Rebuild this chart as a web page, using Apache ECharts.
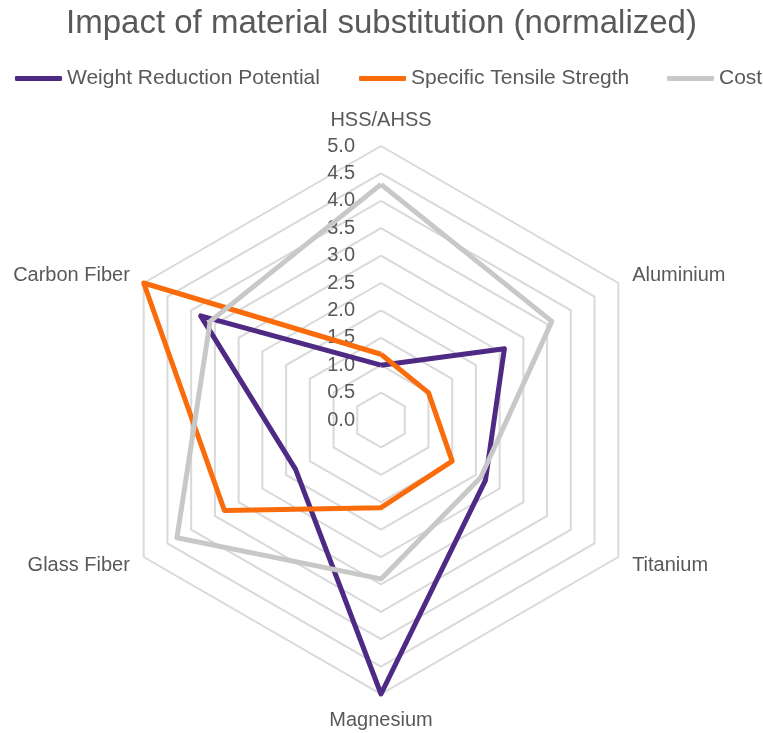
<!DOCTYPE html>
<html>
<head>
<meta charset="utf-8">
<script src="https://cdn.jsdelivr.net/npm/echarts@6/dist/echarts.min.js"></script>
<style>
  html, body { margin: 0; padding: 0; background: #ffffff; }
  #chart { width: 763px; height: 733px; }
</style>
</head>
<body>
<div id="chart"></div>
<script>
// Materials, listed clockwise starting at the top spoke
const materials = ['HSS/AHSS', 'Aluminium', 'Titanium', 'Magnesium', 'Glass Fiber', 'Carbon Fiber'];

// Normalized scores (0–5) per material, same order as above
const weightReduction = [1.0, 2.6, 2.2, 5.0, 1.8, 3.8];
const tensileStrength = [1.2, 1.0, 1.5, 1.6, 3.3, 5.0];
const cost            = [4.3, 3.6, 2.1, 2.9, 4.3, 3.6];

const seriesNames = ['Weight Reduction Potential', 'Specific Tensile Stregth', 'Cost'];
const scaleMax = 5;

const colors = ['#4e2a84', '#f96b0b', '#c8c8c8'];
const textColor = '#595959';

// ECharts lays radar spokes out counter-clockwise, so keep the first spoke and reverse the rest
const order = [0].concat(materials.map((_, i) => i).slice(1).reverse());
const pick = arr => order.map(i => arr[i]);

const indicator = order.map((i, k) => {
  const ind = { name: materials[i], min: 0, max: scaleMax };
  if (k === 0) {
    ind.axisLabel = {
      show: true,
      color: textColor,
      fontSize: 20,
      fontFamily: 'Liberation Sans',
      margin: 26,
      formatter: v => Number(v).toFixed(1)
    };
  }
  return ind;
});

const chart = echarts.init(document.getElementById('chart'), null, { renderer: 'canvas' });

const legendLefts = [10, 354, 662];
const legends = seriesNames.map((name, i) => ({
  data: [{ name: name, icon: 'roundRect' }],
  left: legendLefts[i],
  top: 63,
  itemWidth: 47,
  itemHeight: 5,
  itemGap: 0,
  selectedMode: false,
  textStyle: { color: textColor, fontSize: 21, fontFamily: 'Liberation Sans' }
}));

chart.setOption({
  animation: false,
  backgroundColor: '#ffffff',
  color: colors,
  title: {
    text: 'Impact of material substitution (normalized)',
    left: 'center',
    top: 2,
    textStyle: { color: textColor, fontSize: 33, fontWeight: 'normal', fontFamily: 'Liberation Sans' }
  },
  legend: legends,
  radar: {
    center: [381, 420],
    radius: 274,
    startAngle: 90,
    shape: 'polygon',
    splitNumber: 10,
    indicator: indicator,
    axisName: { color: textColor, fontSize: 20, fontFamily: 'Liberation Sans' },
    nameGap: 16,
    axisLine: { show: false },
    axisTick: { show: false },
    axisLabel: { show: false },
    splitArea: { show: false },
    splitLine: { lineStyle: { color: '#d9d9d9', width: 2 } }
  },
  series: [{
    type: 'radar',
    symbol: 'none',
    data: [weightReduction, tensileStrength, cost].map((vals, i) => ({
      name: seriesNames[i],
      value: pick(vals),
      lineStyle: { color: colors[i], width: 5, join: 'round' },
      itemStyle: { color: colors[i] }
    }))
  }]
});
</script>
</body>
</html>
